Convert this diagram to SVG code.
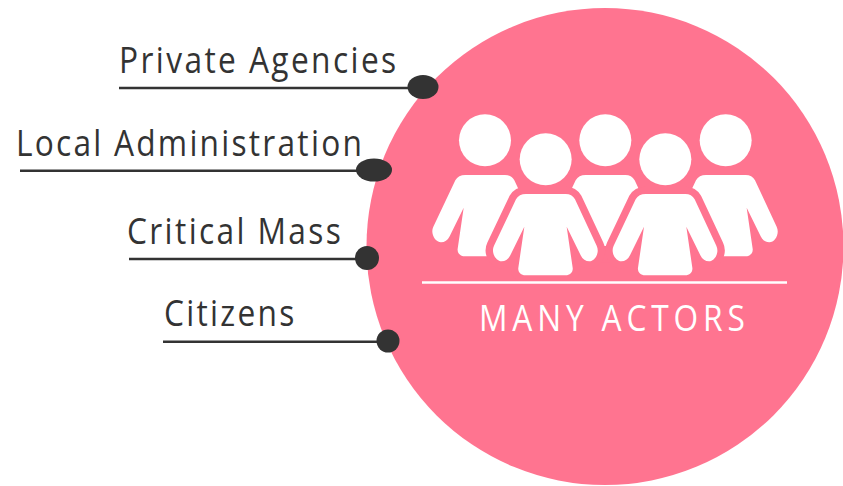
<svg xmlns="http://www.w3.org/2000/svg" width="843" height="486" viewBox="0 0 843 486">
<style>
text{font-family:"Open Sans","Liberation Sans",sans-serif;font-size:36px;font-weight:400}
.lab{fill:#333}
.ln{stroke:#333;stroke-width:2.5;fill:none}
.dot{fill:#333}
.w{fill:#fff}
.body{fill:#fff;stroke:#ff7490;stroke-width:44;stroke-linejoin:round;paint-order:stroke}
</style>
<defs>
<path id="torso" d="M318 282H437Q456 282 465 298L530 437C540 458 525 484 508 484C497 484 488 478 482 466L440 380L458 503C460 516 450 526 437 526H316C303 526 293 516 295 503L313 380L271 466C265 478 256 484 245 484C228 484 212 458 222 437L288 298Q297 282 318 282Z"/>
</defs>
<rect width="843" height="486" fill="#fff"/>
<g id="main-circle">
<circle cx="605" cy="246.500" r="238.500" fill="#ff7490"/>
<g transform="translate(420 100) scale(.33333)">
<g id="actors-back">
<circle class="w" cx="195" cy="121" r="78"/><use href="#torso" class="w" x="-182" y="-57"/>
<circle class="w" cx="556" cy="121" r="78"/><use href="#torso" class="w" x="179" y="-57"/>
<circle class="w" cx="917" cy="121" r="78"/><use href="#torso" class="w" x="540" y="-57"/>
<rect x="520" y="438" width="72" height="50" fill="#ff7490"/>
</g>
<g id="actors-front">
<use href="#torso" class="body"/><circle class="w" cx="377" cy="178" r="78"/>
<use href="#torso" class="body" x="359"/><circle class="w" cx="736" cy="178" r="78"/>
</g>
</g>
<line x1="422" y1="282.500" x2="787" y2="282.500" stroke="#fff" stroke-width="2.500"/>
<text class="w" transform="translate(479 331) scale(.88 1)" textLength="302" lengthAdjust="spacing">MANY ACTORS</text>
</g>
<g id="connectors">
<line class="ln" x1="119" y1="88" x2="415" y2="88"/>
<line class="ln" x1="20" y1="170.700" x2="362" y2="170.700"/>
<line class="ln" x1="129" y1="259" x2="360" y2="259"/>
<line class="ln" x1="163" y1="341.700" x2="382" y2="341.700"/>
</g>
<g id="private-agencies">
<ellipse class="dot" cx="423" cy="87" rx="15.500" ry="12"/>
<text class="lab" transform="translate(119 73) scale(.88 1)" textLength="315" lengthAdjust="spacing">Private Agencies</text>
</g>
<g id="local-administration">
<ellipse class="dot" cx="374" cy="170" rx="18" ry="11.500"/>
<text class="lab" transform="translate(16 156) scale(.88 1)" textLength="393" lengthAdjust="spacing">Local Administration</text>
</g>
<g id="critical-mass">
<circle class="dot" cx="367" cy="258" r="12"/>
<text class="lab" transform="translate(127 244) scale(.88 1)" textLength="243" lengthAdjust="spacing">Critical Mass</text>
</g>
<g id="citizens">
<circle class="dot" cx="388" cy="341" r="11.500"/>
<text class="lab" transform="translate(164 326) scale(.88 1)" textLength="148" lengthAdjust="spacing">Citizens</text>
</g>
</svg>
